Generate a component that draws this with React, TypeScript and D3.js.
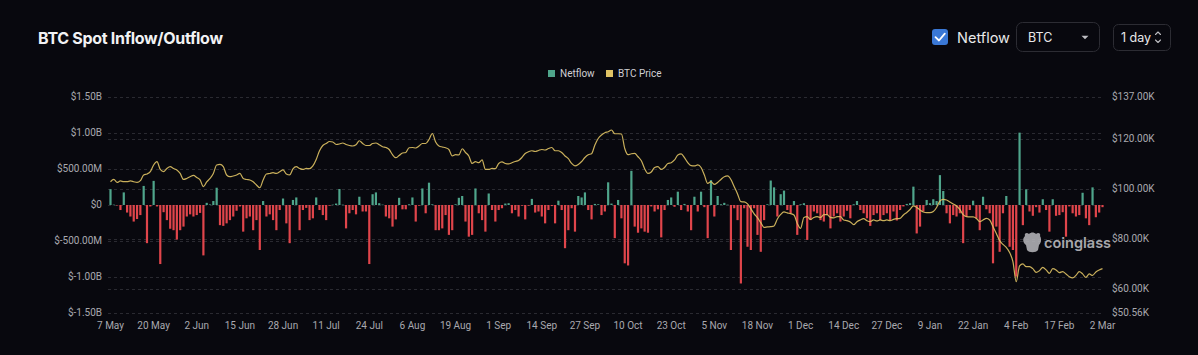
import React from 'react';
import * as d3 from 'd3';

// x-axis tick labels (one every 13 days, starting 7 May)
const tickLabels = ['7 May','20 May','2 Jun','15 Jun','28 Jun','11 Jul','24 Jul','6 Aug','19 Aug','1 Sep','14 Sep','27 Sep','10 Oct','23 Oct','5 Nov','18 Nov','1 Dec','14 Dec','27 Dec','9 Jan','22 Jan','4 Feb','17 Feb','2 Mar'];
const tickStep = 13;

// daily BTC spot netflow, millions USD
const netflow = [
  220, 5, -5, -70, 175, -105, -160, -230, -195, -140,
  265, -530, -20, 335, -20, -820, -100, -210, -330, -350,
  -480, -350, -300, -160, -130, -160, -140, -110, -700, 30,
  8, 55, 240, -280, -290, -255, -210, -160, -80, -20,
  -370, -185, -160, -350, -210, -625, 55, -160, -130, -210,
  -350, -70, 90, -255, -530, 70, 105, -350, -70, -40,
  -210, -185, 105, -70, -140, -210, -10, 5, 20, 222,
  5, -325, -115, -70, -130, 115, -90, -90, -820, 150,
  175, 25, 5, -160, -185, -300, -200, 100, -60, -60,
  10, 105, -230, -10, 230, -115, 310, 10, -350, -350,
  -325, -140, -415, -350, 10, 100, 125, -230, -440, -415,
  230, -115, -210, -370, 160, -70, -230, -70, -45, 20,
  25, -115, -70, -160, -10, -200, -10, 85, -105, -90,
  -160, -255, -70, -15, -255, 60, -70, -600, -350, -45,
  -370, 125, 105, 175, -70, -200, 15, 10, -140, -90,
  315, 20, -460, 70, -185, -810, -840, 475, -300, -385,
  -325, -370, -385, -20, -90, -60, -450, -70, 70, 105,
  -25, 185, -70, 15, -90, -350, 115, -90, 185, -30,
  -460, 345, -160, 125, 10, 30, 5, -625, -45, -210,
  -1090, -45, -580, -625, -45, -415, -650, -210, 10, 340,
  245, -160, 150, 200, -70, -115, 55, -415, 10, 25,
  -485, -210, -90, -115, -210, -230, -140, -325, -160, -115,
  -230, -160, -80, -185, 10, 55, -70, -115, -185, -290,
  -140, -115, -210, -140, -115, -210, -90, -215, -70, -20,
  15, 25, 255, -395, -300, -90, 70, 25, 80, 55,
  415, 195, -115, -255, -140, -160, -115, -530, -160, -70,
  60, -185, -350, 115, -60, -115, -810, -300, -650, -115,
  125, -580, -625, -995, 1005, -280, 218, -90, -150, -30,
  -105, 80, -70, -370, 80, -150, -140, -100, -440, -20,
  -115, -160, -140, 170, -185, -280, 245, -170, -105, -30,
];

// daily BTC price, thousands USD
const price = [
  103.1, 104.0, 102.8, 103.4, 103.1, 103.1, 103.4, 103.1, 102.8, 103.5,
  105.8, 106.2, 107.1, 109.8, 111.1, 108.0, 107.1, 108.4, 109.1, 108.4,
  107.8, 106.4, 104.0, 104.4, 105.1, 105.6, 104.8, 103.8, 101.1, 103.0,
  104.4, 106.4, 109.8, 110.0, 109.1, 105.8, 105.1, 105.4, 105.8, 106.4,
  104.4, 104.0, 103.8, 103.1, 101.8, 100.7, 103.8, 106.2, 106.4, 106.7,
  106.4, 107.1, 107.8, 106.2, 105.8, 108.2, 109.1, 108.4, 108.0, 108.4,
  108.3, 109.4, 112.0, 115.5, 117.6, 118.4, 119.2, 119.0, 118.0, 118.2,
  118.6, 118.0, 117.6, 117.4, 117.9, 119.5, 118.4, 117.6, 117.6, 118.4,
  118.6, 117.9, 117.1, 116.8, 116.0, 113.9, 112.7, 113.6, 114.6, 114.8,
  116.7, 116.8, 116.6, 117.4, 118.4, 118.4, 120.0, 122.4, 119.0, 117.4,
  117.0, 116.7, 116.0, 113.4, 113.9, 113.8, 116.3, 114.8, 113.4, 110.4,
  111.1, 110.7, 111.8, 108.0, 108.0, 108.4, 108.3, 110.4, 111.0, 110.4,
  110.2, 110.7, 111.2, 111.6, 112.8, 114.4, 115.1, 115.5, 115.2, 115.6,
  116.0, 115.8, 116.4, 116.8, 115.5, 115.5, 114.8, 113.4, 112.3, 110.4,
  109.4, 110.0, 111.2, 112.8, 113.9, 114.3, 117.8, 120.4, 121.8, 122.7,
  123.1, 123.8, 122.3, 122.3, 122.2, 116.4, 113.9, 114.3, 114.4, 113.1,
  111.5, 108.3, 106.4, 107.0, 108.8, 109.1, 108.0, 108.8, 110.4, 110.7,
  111.8, 113.8, 114.2, 112.7, 110.7, 109.5, 109.4, 109.8, 108.8, 105.8,
  102.4, 103.1, 102.0, 102.8, 104.0, 105.1, 105.4, 104.0, 101.1, 98.2,
  95.1, 95.0, 94.2, 92.3, 90.2, 88.7, 86.7, 84.8, 85.0, 85.1,
  85.4, 88.2, 90.0, 91.0, 90.6, 90.3, 89.8, 86.4, 84.4, 88.8,
  89.1, 88.0, 88.8, 89.1, 88.8, 89.9, 89.9, 88.8, 88.6, 89.1,
  89.1, 87.8, 87.5, 87.0, 85.9, 87.1, 87.8, 88.3, 87.5, 87.1,
  87.8, 87.4, 87.8, 87.5, 87.8, 87.5, 88.0, 88.3, 88.4, 89.8,
  90.8, 92.0, 93.4, 92.8, 91.8, 91.0, 90.7, 90.7, 91.2, 92.8,
  95.4, 96.0, 95.8, 95.0, 94.2, 93.4, 92.0, 89.9, 89.1, 89.0,
  89.0, 88.4, 87.1, 87.8, 88.4, 87.8, 85.1, 82.4, 79.5, 78.0,
  76.8, 74.8, 71.1, 63.1, 69.4, 70.2, 69.1, 69.1, 68.3, 66.8,
  67.5, 68.8, 67.8, 66.4, 68.3, 67.8, 66.7, 67.1, 66.2, 65.1,
  64.6, 65.6, 67.1, 66.2, 64.8, 66.2, 65.6, 67.0, 67.8, 68.3,
];

const leftTicks = [1500, 1000, 500, 0, -500, -1000, -1500];
const leftTickLabels = ['$1.50B', '$1.00B', '$500.00M', '$0', '$-500.00M', '$-1.00B', '$-1.50B'];
const rightTicks = [137, 120, 100, 80, 60, 50.56];
const rightTickLabels = ['$137.00K', '$120.00K', '$100.00K', '$80.00K', '$60.00K', '$50.56K'];

const W = 1198;
const H = 355;
const BG = '#08080e';
const GREEN = '#4fa58b';
const RED = '#e0454b';
const LINE = '#dfc264';
const AXIS_TEXT = '#a9a9ae';
const FONT = "Inter, 'Noto Sans', sans-serif";
const AXIS_FONT = "Roboto, 'Noto Sans', sans-serif";

export default function App() {
  const left = 108, right = 1104, top = 97, bottom = 313;
  const x = d3.scaleLinear().domain([0, netflow.length - 1]).range([110.5, 1102.5]);
  const yL = d3.scaleLinear().domain([-1500, 1500]).range([bottom, top]);
  const yR = d3.scaleLinear().domain([50.56, 137]).range([bottom, top]);
  const linePath = d3.line<number>()
    .x((_, i) => x(i))
    .y((d) => yR(d))
    .curve(d3.curveMonotoneX)(price) || '';
  const barW = 2.2;
  const gridYs = [...leftTicks.map((t) => yL(t)), ...rightTicks.map((t) => yR(t))];

  return (
    <svg width={W} height={H} style={{ position: 'absolute', left: 0, top: 0, display: 'block' }}>
      <rect x={0} y={0} width={W} height={H} fill={BG} />
      {/* title */}
      <text x={38} y={44} fill="#f2f2f4" fontFamily={FONT} fontWeight={700} fontSize={16} letterSpacing={-0.3}>BTC Spot Inflow/Outflow</text>

      {/* controls */}
      <rect x={932} y={29} width={16} height={16} rx={3} fill="#3a78d6" />
      <path d="M935.5 37.2 L939 40.5 L944.8 33.6" fill="none" stroke="#ffffff" strokeWidth={1.8} strokeLinecap="round" strokeLinejoin="round" />
      <text x={957} y={42.5} fill="#e8e8ea" fontFamily={FONT} fontSize={14.5}>Netflow</text>
      <rect x={1016.5} y={22.5} width={83} height={29} rx={6} fill="none" stroke="#2c2c33" strokeWidth={1} />
      <text x={1028} y={41.5} fill="#e8e8ea" fontFamily={FONT} fontSize={12.5}>BTC</text>
      <path d="M1081.5 35.8 L1088.5 35.8 L1085 39.2 Z" fill="#bdbdc2" />
      <rect x={1113.5} y={24.5} width={57} height={26} rx={5} fill="none" stroke="#2c2c33" strokeWidth={1} />
      <text x={1121} y={41.5} fill="#e8e8ea" fontFamily={FONT} fontSize={12.5}>1 day</text>
      <path d="M1155.5 34.5 L1158 32 L1160.5 34.5 M1155.5 40 L1158 42.5 L1160.5 40" fill="none" stroke="#bdbdc2" strokeWidth={1.1} strokeLinecap="round" strokeLinejoin="round" />

      {/* legend */}
      <rect x={548} y={70} width={7} height={7} fill={GREEN} />
      <text x={560} y={74} dominantBaseline="middle" fill="#cfcfd3" fontFamily={AXIS_FONT} fontSize={10}>Netflow</text>
      <rect x={606} y={70} width={7} height={7} fill={LINE} />
      <text x={618} y={74} dominantBaseline="middle" fill="#cfcfd3" fontFamily={AXIS_FONT} fontSize={10}>BTC Price</text>

      {/* grid */}
      {gridYs.map((gy, k) => (
        <line key={'g' + k} x1={left} x2={right} y1={Math.round(gy) + 0.5} y2={Math.round(gy) + 0.5} stroke="#2a2a31" strokeWidth={1} strokeDasharray="3,3" />
      ))}

      {/* left axis */}
      {leftTicks.map((t, k) => (
        <text key={'l' + k} x={102} y={yL(t)} textAnchor="end" dominantBaseline="middle" fill={AXIS_TEXT} fontFamily={AXIS_FONT} fontSize={10}>{leftTickLabels[k]}</text>
      ))}
      {/* right axis */}
      {rightTicks.map((t, k) => (
        <text key={'r' + k} x={1112} y={yR(t)} textAnchor="start" dominantBaseline="middle" fill={AXIS_TEXT} fontFamily={AXIS_FONT} fontSize={10}>{rightTickLabels[k]}</text>
      ))}
      {/* x axis */}
      {tickLabels.map((t, k) => (
        <text key={'x' + k} x={x(k * tickStep)} y={326} textAnchor="middle" dominantBaseline="middle" fill={AXIS_TEXT} fontFamily={AXIS_FONT} fontSize={10}>{t}</text>
      ))}

      {/* bars */}
      {netflow.map((v, i) => {
        const y0 = yL(0);
        const y1 = yL(v);
        return (
          <rect key={'b' + i} x={x(i) - barW / 2} y={Math.min(y0, y1)} width={barW} height={Math.max(0.5, Math.abs(y1 - y0))} fill={v >= 0 ? GREEN : RED} />
        );
      })}

      {/* price line */}
      <path d={linePath} fill="none" stroke={LINE} strokeWidth={1.2} strokeOpacity={0.9} strokeLinejoin="round" />

      {/* watermark */}
      <g opacity={0.85}>
        <path d="M1025 236 C1024 233 1027 232 1029 234 C1031 232 1034 232 1036 234 C1038 232 1041 233 1040 236 C1042 239 1041 243 1039 245 L1038 250 C1036 253 1029 253 1027 250 L1026 245 C1023 243 1022 239 1025 236 Z" fill="#b9b9bd" />
        <text x={1044} y={248} fill="#c4c4c8" fontFamily={FONT} fontWeight={600} fontSize={14.5}>coinglass</text>
      </g>
    </svg>
  );
}
